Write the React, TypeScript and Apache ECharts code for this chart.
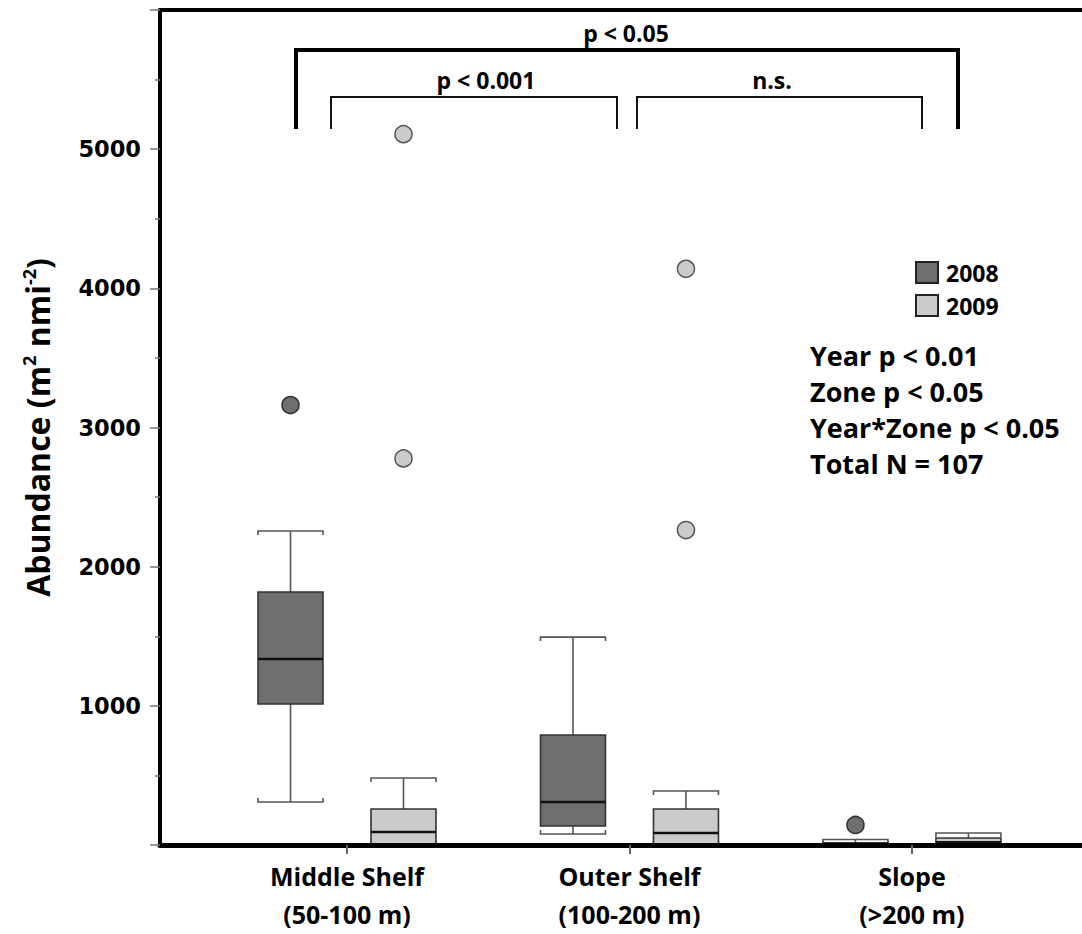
import React, { useEffect, useRef } from "react";
import * as echarts from "echarts";

// ---- data ----
const categories = ["Middle Shelf\n(50-100 m)", "Outer Shelf\n(100-200 m)", "Slope\n(>200 m)"];
// [categoryIndex, min, q1, median, q3, max]
const box2008 = [
  [0, 309, 1013, 1336, 1818, 2256],
  [1, 79, 136, 309, 790, 1494],
  [2, 0, 0, 5, 15, 40],
];
const box2009 = [
  [0, 0, 5, 93, 259, 481],
  [1, 0, 5, 86, 259, 388],
  [2, 0, 5, 20, 50, 86],
];
// [categoryIndex, value]
const outliers2008 = [
  [0, 3161],
  [2, 144],
];
const outliers2009 = [
  [0, 2778],
  [0, 5108],
  [1, 2263],
  [1, 4140],
];
const yTicks = [0, 1000, 2000, 3000, 4000, 5000, 6000];
const statsLines = ["Year p < 0.01", "Zone p < 0.05", "Year*Zone p < 0.05", "Total N = 107"];
const years = ["2008", "2009"];

const DARK = "#6e6e6e";
const LIGHT = "#cbcbcb";
const OFFSET = 0.2;
const BOX_W = 0.23;
const TXT_FONT = "'Open Sans', Lato, sans-serif";

function makeRenderItem(offset: number, fill: string) {
  return (params: any, api: any) => {
    const xc = api.value(0) + 1 + offset;
    const pMin = api.coord([xc, api.value(1)]);
    const pQ1 = api.coord([xc, api.value(2)]);
    const pMed = api.coord([xc, api.value(3)]);
    const pQ3 = api.coord([xc, api.value(4)]);
    const pMax = api.coord([xc, api.value(5)]);
    const cx = pMin[0];
    const h = api.size([BOX_W, 0])[0] / 2;
    const wStyle = { stroke: "#555", lineWidth: 1.6, fill: "none" };
    return {
      type: "group",
      children: [
        { type: "line", shape: { x1: cx, y1: pMax[1], x2: cx, y2: pQ3[1] }, style: wStyle },
        { type: "line", shape: { x1: cx, y1: pQ1[1], x2: cx, y2: pMin[1] }, style: wStyle },
        {
          type: "polyline",
          shape: { points: [[cx - h, pMax[1] + 4], [cx - h, pMax[1]], [cx + h, pMax[1]], [cx + h, pMax[1] + 4]] },
          style: wStyle,
        },
        {
          type: "polyline",
          shape: { points: [[cx - h, pMin[1] - 4], [cx - h, pMin[1]], [cx + h, pMin[1]], [cx + h, pMin[1] - 4]] },
          style: wStyle,
        },
        {
          type: "rect",
          shape: { x: cx - h, y: pQ3[1], width: 2 * h, height: pQ1[1] - pQ3[1] },
          style: { fill, stroke: "#333", lineWidth: 1.6 },
        },
        {
          type: "line",
          shape: { x1: cx - h, y1: pMed[1], x2: cx + h, y2: pMed[1] },
          style: { stroke: "#111", lineWidth: 2.4 },
        },
      ],
    };
  };
}

export default function App() {
  const ref = useRef<HTMLDivElement>(null);
  useEffect(() => {
    if (!ref.current) return;
    const chart = echarts.init(ref.current, null, { renderer: "svg" });
    const xMin = 0.338;
    const xMax = 3.602;
    const option: any = {
      animation: false,
      backgroundColor: "#fff",
      grid: { left: 160, right: 0, top: 10, bottom: 89 },
      legend: {
        orient: "vertical",
        left: 910,
        top: 256,
        itemWidth: 22,
        itemHeight: 21,
        itemGap: 10,
        icon: "rect",
        textStyle: { fontFamily: TXT_FONT, fontWeight: "bold", fontSize: 23, lineHeight: 21, color: "#000", padding: [0, 0, 0, 3] },
        data: [
          { name: years[0], itemStyle: { color: DARK, borderColor: "#222", borderWidth: 2 } },
          { name: years[1], itemStyle: { color: LIGHT, borderColor: "#222", borderWidth: 2 } },
        ],
      },
      xAxis: [
        {
          type: "value",
          min: xMin,
          max: xMax,
          z: 10,
          splitLine: { show: false },
          axisLine: { lineStyle: { color: "#000", width: 5 } },
          axisTick: { customValues: [1, 2, 3], length: 9, lineStyle: { color: "#666", width: 2 } },
          axisLabel: {
            customValues: [1, 2, 3],
            formatter: (v: number) => categories[Math.round(v) - 1] || "",
            fontFamily: TXT_FONT,
            fontWeight: "bold",
            fontSize: 25,
            lineHeight: 38,
            color: "#000",
            margin: 12,
          },
        },
        {
          type: "value",
          position: "top",
          min: xMin,
          max: xMax,
          z: 10,
          splitLine: { show: false },
          axisLine: { show: true, lineStyle: { color: "#000", width: 4 } },
          axisTick: { show: false },
          axisLabel: { show: false },
        },
      ],
      yAxis: {
        type: "value",
        min: yTicks[0],
        max: yTicks[yTicks.length - 1],
        interval: 1000,
        z: 10,
        name: "Abundance (m{sup|2} nmi{sup|-2})",
        nameLocation: "middle",
        nameGap: 106,
        nameRotate: 90,
        nameTextStyle: {
          fontFamily: TXT_FONT,
          fontWeight: "bold",
          fontSize: 32,
          color: "#000",
          rich: {
            sup: { fontFamily: TXT_FONT, fontWeight: "bold", fontSize: 18, color: "#000", verticalAlign: "top", lineHeight: 34 },
          },
        },
        splitLine: { show: false },
        axisLine: { show: true, lineStyle: { color: "#000", width: 4 } },
        axisTick: { show: true, length: 10, lineStyle: { color: "#777", width: 1.5 } },
        minorTick: { show: true, splitNumber: 2, length: 5, lineStyle: { color: "#777", width: 1.5 } },
        axisLabel: {
          showMinLabel: false,
          showMaxLabel: false,
          formatter: (v: number) => String(v),
          fontFamily: "'DejaVu Sans', sans-serif",
          fontWeight: "bold",
          fontSize: 22.5,
          color: "#000",
          margin: 19,
        },
      },
      series: [
        {
          name: years[0],
          type: "custom",
          renderItem: makeRenderItem(-OFFSET, DARK),
          encode: { x: 0, y: [1, 2, 3, 4, 5] },
          data: box2008,
          itemStyle: { color: DARK },
          z: 2,
        },
        {
          name: years[1],
          type: "custom",
          renderItem: makeRenderItem(OFFSET, LIGHT),
          encode: { x: 0, y: [1, 2, 3, 4, 5] },
          data: box2009,
          itemStyle: { color: LIGHT },
          z: 2,
        },
        {
          name: years[0],
          type: "scatter",
          symbol: "circle",
          symbolSize: 17,
          data: outliers2008.map(([c, v]) => [c + 1 - OFFSET, v]),
          itemStyle: { color: DARK, borderColor: "#333", borderWidth: 1.5, opacity: 1 },
          z: 3,
        },
        {
          name: years[1],
          type: "scatter",
          symbol: "circle",
          symbolSize: 17,
          data: outliers2009.map(([c, v]) => [c + 1 + OFFSET, v]),
          itemStyle: { color: LIGHT, borderColor: "#555", borderWidth: 1.5, opacity: 1 },
          z: 3,
        },
      ],
      graphic: [
        {
          type: "polyline",
          shape: { points: [[296, 129], [296, 50], [958, 50], [958, 129]] },
          style: { stroke: "#000", lineWidth: 4, fill: "none" },
        },
        {
          type: "polyline",
          shape: { points: [[331, 129], [331, 97], [617, 97], [617, 129]] },
          style: { stroke: "#111", lineWidth: 2, fill: "none" },
        },
        {
          type: "polyline",
          shape: { points: [[637, 129], [637, 97], [922, 97], [922, 129]] },
          style: { stroke: "#111", lineWidth: 2, fill: "none" },
        },
        {
          type: "text",
          x: 626,
          y: 33,
          style: { text: "p < 0.05", font: `bold 23px ${TXT_FONT}`, fill: "#000", align: "center", verticalAlign: "middle" },
        },
        {
          type: "text",
          x: 486,
          y: 80,
          style: { text: "p < 0.001", font: `bold 23px ${TXT_FONT}`, fill: "#000", align: "center", verticalAlign: "middle" },
        },
        {
          type: "text",
          x: 772,
          y: 80,
          style: { text: "n.s.", font: `bold 23px ${TXT_FONT}`, fill: "#000", align: "center", verticalAlign: "middle" },
        },
        ...statsLines.map((t, i) => ({
          type: "text",
          x: 810,
          y: 355 + i * 36.3,
          style: { text: t, font: `bold 27px ${TXT_FONT}`, fill: "#000", align: "left", verticalAlign: "middle" },
        })),
      ],
    };
    chart.setOption(option);
    return () => chart.dispose();
  }, []);
  return <div ref={ref} style={{ position: "absolute", left: 0, top: 0, width: 1082, height: 934 }} />;
}
